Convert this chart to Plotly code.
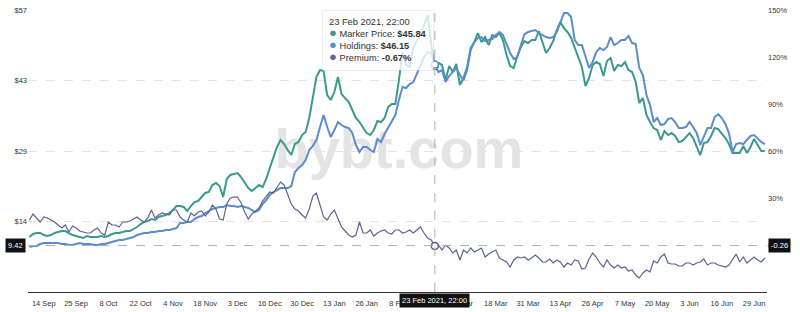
import pandas as pd
import plotly.graph_objects as go

# ---------------- data ----------------
tick_dates = ["2020-09-14", "2020-09-25", "2020-10-08", "2020-10-22", "2020-11-04", "2020-11-18",
              "2020-12-03", "2020-12-16", "2020-12-30", "2021-01-13", "2021-01-26", "2021-02-08",
              "2021-02-22", "2021-03-05", "2021-03-18", "2021-03-31", "2021-04-13", "2021-04-26",
              "2021-05-07", "2021-05-20", "2021-06-03", "2021-06-16", "2021-06-29"]

market_price = [
    11.15, 11.76, 11.97, 11.97, 11.56, 11.36, 11.56, 11.97, 12.17, 12.37,
    12.37, 11.97, 11.56, 11.36, 11.15, 10.95, 11.36, 11.15, 11.15, 11.15,
    11.36, 11.15, 11.36, 11.76, 11.97, 11.97, 12.17, 12.37, 12.37, 12.78,
    13.18, 13.79, 14.20, 14.40, 14.80, 14.60, 15.21, 15.41, 15.62, 16.02,
    16.63, 17.44, 17.44, 17.24, 16.43, 17.44, 18.25, 18.45, 19.27, 20.08,
    20.28, 21.70, 22.11, 21.50, 19.27, 22.92, 23.73, 23.93, 24.13, 23.32,
    22.31, 21.09, 20.48, 21.09, 21.70, 21.29, 22.92, 25.15, 27.38, 29.41,
    30.83, 30.01, 28.80, 27.78, 30.01, 30.42, 31.84, 32.45, 35.29, 39.55,
    43.60, 45.02, 44.82, 39.95, 38.94, 40.56, 43.60, 40.15, 39.34, 38.53,
    36.91, 35.29, 34.48, 33.46, 32.25, 31.84, 32.85, 34.68, 34.48, 35.29,
    37.52, 38.13, 38.13, 42.99, 48.67, 46.04, 45.64, 49.48, 51.11, 52.12,
    54.15, 56.18, 50.09, 45.84, 46.44, 46.04, 42.99, 45.83, 44.62, 46.24,
    41.98, 43.40, 45.64, 49.48, 50.70, 52.53, 50.70, 51.71, 50.09, 52.12,
    51.71, 52.53, 51.11, 48.06, 45.83, 45.43, 47.86, 49.69, 50.90, 50.50,
    51.11, 51.11, 52.93, 50.70, 48.47, 49.48, 50.90, 53.13, 54.76, 53.54,
    52.73, 51.51, 49.48, 47.45, 45.64, 41.78, 43.40, 46.04, 46.65, 46.24,
    43.80, 46.85, 47.45, 44.82, 46.04, 45.83, 46.65, 45.02, 44.62, 42.59,
    38.33, 39.34, 35.90, 34.48, 33.26, 32.85, 30.83, 32.65, 31.84, 32.25,
    31.64, 30.42, 30.62, 31.43, 32.25, 31.23, 29.41, 27.78, 30.22, 30.42,
    31.64, 33.26, 33.06, 32.25, 31.23, 30.01, 28.19, 28.19, 28.19, 29.61,
    28.19, 29.41, 31.03, 29.81, 28.59, 28.59]

holdings = [
    9.13, 9.33, 9.33, 9.73, 9.94, 9.94, 9.94, 9.94, 9.94, 9.73,
    9.73, 9.53, 9.53, 9.73, 9.94, 9.73, 9.73, 9.73, 9.53, 9.53,
    9.73, 9.73, 9.94, 10.14, 10.34, 10.55, 10.55, 10.75, 10.95, 11.15,
    11.56, 11.76, 11.97, 11.97, 12.17, 12.17, 12.37, 12.37, 12.57, 12.57,
    12.78, 12.98, 13.99, 13.99, 14.20, 14.20, 14.80, 15.21, 15.41, 16.02,
    16.43, 16.83, 17.04, 17.24, 17.24, 17.64, 17.44, 17.44, 17.24, 17.44,
    17.24, 17.04, 16.63, 16.22, 16.63, 17.85, 18.66, 19.67, 20.28, 20.69,
    21.09, 21.09, 21.09, 21.50, 24.34, 25.15, 25.76, 26.77, 28.80, 29.61,
    30.83, 33.46, 35.90, 33.46, 31.43, 32.85, 34.48, 33.87, 33.46, 33.26,
    32.25, 29.81, 28.39, 29.41, 29.41, 28.80, 28.39, 31.03, 30.42, 32.04,
    33.26, 34.48, 35.90, 38.94, 41.57, 41.37, 42.18, 42.59, 44.21, 46.04,
    47.66, 48.67, 48.47, 46.15, 44.62, 45.02, 42.59, 43.80, 44.62, 45.43,
    44.01, 42.99, 45.02, 49.08, 50.70, 51.51, 51.71, 50.90, 51.11, 51.31,
    52.12, 52.73, 52.12, 50.09, 48.47, 47.25, 47.66, 50.09, 52.32, 52.73,
    52.93, 53.13, 52.53, 52.12, 51.71, 51.51, 51.71, 52.73, 54.76, 56.58,
    56.58, 55.77, 51.11, 50.09, 50.09, 47.86, 45.43, 46.65, 48.67, 49.48,
    49.08, 49.69, 51.71, 50.09, 50.50, 51.11, 51.11, 51.92, 50.50, 50.30,
    45.43, 44.01, 39.95, 37.92, 34.48, 35.29, 33.87, 34.07, 35.08, 35.29,
    34.48, 33.26, 33.26, 33.46, 34.48, 33.46, 32.25, 29.81, 31.43, 33.26,
    33.26, 35.49, 36.10, 35.29, 34.07, 32.25, 28.39, 30.01, 30.22, 30.01,
    30.83, 31.64, 31.84, 31.03, 30.42, 30.01]

premium = [
    15.95, 19.78, 17.23, 14.67, 17.86, 17.23, 15.95, 14.67, 12.76, 10.85,
    12.76, 8.29, 12.12, 10.85, 8.93, 8.29, 7.66, 7.66, 9.57, 10.85,
    7.66, 6.38, 14.67, 12.76, 12.76, 11.48, 14.67, 14.67, 15.31, 16.59,
    17.86, 15.95, 14.67, 17.23, 22.33, 17.23, 19.14, 20.42, 19.78, 19.14,
    22.33, 22.33, 17.86, 15.95, 14.67, 20.42, 18.50, 21.05, 21.69, 18.50,
    21.05, 25.52, 22.97, 16.59, 15.95, 26.16, 29.99, 30.62, 30.62, 26.80,
    21.05, 16.59, 19.78, 21.69, 23.61, 28.07, 30.62, 33.81, 33.18, 37.00,
    40.19, 38.28, 31.90, 26.16, 22.97, 21.69, 19.14, 17.23, 22.97, 31.26,
    33.18, 25.52, 17.86, 15.95, 19.78, 22.33, 16.59, 11.48, 8.93, 6.38,
    5.10, 6.38, 14.67, 7.66, 7.66, 9.57, 5.74, 7.66, 8.93, 9.57,
    7.66, 7.02, 9.57, 9.57, 7.66, 8.29, 9.57, 7.66, 9.57, 11.48,
    7.66, 4.47, 3.19, -0.67, 0.00, -3.19, 0.00, -1.91, -5.10, -3.19,
    -9.57, -3.19, -5.10, -1.91, -4.47, -3.19, -1.91, -7.66, -5.74, -4.47,
    -3.19, -8.29, -9.57, -10.85, -14.04, -9.57, -7.66, -8.29, -7.66, -9.57,
    -8.29, -6.38, -8.29, -10.85, -10.85, -8.93, -11.48, -9.57, -10.85, -14.04,
    -11.48, -12.76, -9.57, -10.21, -15.31, -14.67, -8.93, -5.10, -7.66, -11.48,
    -14.04, -9.57, -12.76, -14.67, -12.76, -14.67, -14.04, -16.59, -15.95, -19.14,
    -21.05, -17.86, -15.95, -17.23, -10.21, -11.48, -7.66, -5.74, -11.48, -12.12,
    -12.12, -13.40, -13.40, -11.48, -11.48, -12.76, -11.48, -10.85, -8.93, -12.76,
    -11.48, -11.48, -12.76, -13.40, -14.04, -12.76, -8.93, -5.74, -10.85, -7.66,
    -11.48, -9.57, -7.66, -9.57, -10.85, -8.29]

left_ticks = [14.3, 28.6, 42.9, 57.2]
left_tick_text = ["$14", "$29", "$43", "$57"]
right_ticks = [0, 30, 60, 90, 120, 150]

hover_date = "2021-02-23"
hover_title = "23 Feb 2021, 22:00"
hover_price_text = "$45.84"
hover_holdings_text = "$46.15"
hover_premium_text = "-0.67%"
cursor_value = 9.42
cursor_left_text = "9.42"
cursor_right_text = "-0.26"
watermark_text = "bybt.com"

# ---------------- categories (trading days between the axis ticks) ----------------
anchors = pd.to_datetime(tick_dates)
days = list(pd.bdate_range(end=anchors[0], periods=5))
for a, b in zip(anchors[:-1], anchors[1:]):
    between = pd.bdate_range(a + pd.Timedelta(days=1), b - pd.Timedelta(days=1))
    days += list(between[:8]) + [b]
days += list(pd.bdate_range(anchors[-1] + pd.Timedelta(days=1), periods=3))
categories = [d.strftime("%Y-%m-%d") for d in days]
n = len(categories)
assert n == len(market_price) == len(holdings) == len(premium)
tick_text = [f"{d.day} {d.strftime('%b')}" for d in anchors]

C_PRICE = "#3a9a8e"
C_HOLD = "#5b8dcc"
C_PREM = "#5d628f"
FONT = "Liberation Sans, Arial, Helvetica, sans-serif"

x_range = [-0.4, n - 1 + 0.6]
y_range = [0, 57.2]
y2_range = [-30, 150]

fig = go.Figure()

# watermark (drawn first so the lines sit on top of it)
mid_idx = int(round(sum(x_range) / 2))
fig.add_trace(go.Scatter(
    x=[categories[mid_idx]], y=[sum(y_range) / 2 - 0.6], mode="text", text=[watermark_text],
    textfont=dict(family="Liberation Sans Narrow, Liberation Sans, Arial", size=56,
                  color="#e4e4e4", weight="bold"),
    hoverinfo="skip", showlegend=False))

fig.add_trace(go.Scatter(x=categories, y=market_price, mode="lines", name="Marker Price",
                         line=dict(color=C_PRICE, width=2)))
fig.add_trace(go.Scatter(x=categories, y=holdings, mode="lines", name="Holdings",
                         line=dict(color=C_HOLD, width=2)))
fig.add_trace(go.Scatter(x=categories, y=premium, mode="lines", name="Premium", yaxis="y2",
                         line=dict(color=C_PREM, width=1.2)))

hi = categories.index(hover_date)
fig.add_trace(go.Scatter(x=[hover_date, hover_date], y=[market_price[hi], holdings[hi]],
                         mode="markers", showlegend=False,
                         marker=dict(size=7, color="white",
                                     line=dict(color=[C_PRICE, C_HOLD], width=1.5))))
fig.add_trace(go.Scatter(x=[hover_date], y=[premium[hi]], yaxis="y2", mode="markers",
                         showlegend=False,
                         marker=dict(size=7, color="white", line=dict(color=C_PREM, width=1.5))))

# crosshair
fig.add_shape(type="line", xref="x", yref="paper", x0=hover_date, x1=hover_date, y0=0, y1=1,
              line=dict(color="#b0b0b0", width=1, dash="dash"))
fig.add_shape(type="line", xref="paper", yref="y", x0=0, x1=1, y0=cursor_value, y1=cursor_value,
              line=dict(color="#b0b0b0", width=1, dash="dash"))

dot = lambda c: f"<span style='color:{c};font-size:13px'>●</span>"
tip = (f"{hover_title}<br>"
       f"{dot(C_PRICE)} Marker Price: <b>{hover_price_text}</b><br>"
       f"{dot(C_HOLD)} Holdings: <b>{hover_holdings_text}</b><br>"
       f"{dot(C_PREM)} Premium: <b>{hover_premium_text}</b>")
fig.add_annotation(xref="x", yref="paper", x=hover_date, y=1, xanchor="right", yanchor="top",
                   xshift=-1, text=tip, align="left", showarrow=False,
                   font=dict(family=FONT, size=9.3, color="#333"),
                   bgcolor="rgba(255,255,255,0.78)", bordercolor="rgba(0,0,0,0.07)",
                   borderwidth=1, borderpad=6)

label_style = dict(showarrow=False, bgcolor="#111111", borderpad=2,
                   font=dict(family=FONT, size=7.5, color="white"))
fig.add_annotation(xref="paper", yref="y", x=-0.003, y=cursor_value, xanchor="right",
                   yanchor="middle", text=cursor_left_text, **label_style)
fig.add_annotation(xref="paper", yref="y", x=1.002, y=cursor_value, xanchor="left",
                   yanchor="middle", text=cursor_right_text, **label_style)
fig.add_annotation(xref="x", yref="paper", x=hover_date, y=0, xanchor="center",
                   yanchor="top", yshift=-1, text=hover_title, **label_style)

fig.update_layout(
    width=800, height=312,
    margin=dict(l=28, r=33, t=10, b=20, autoexpand=False),
    paper_bgcolor="white", plot_bgcolor="white", showlegend=False,
    font=dict(family=FONT, size=7.5, color="#333"),
    xaxis=dict(type="category", categoryorder="array", categoryarray=categories,
               range=x_range, tickvals=tick_dates, ticktext=tick_text,
               showgrid=False, showline=True, linecolor="#333", linewidth=1, ticks="",
               ticklabelstandoff=4,
               zeroline=False, tickfont=dict(size=7.5, color="#333")),
    yaxis=dict(range=y_range, tickvals=left_ticks, ticktext=left_tick_text, showgrid=True,
               gridcolor="#e3e3e3", griddash="dash", gridwidth=1, zeroline=False, ticks="",
               showline=False, tickfont=dict(size=7.5, color="#333")),
    yaxis2=dict(overlaying="y", side="right", range=y2_range, tickvals=right_ticks,
                ticktext=[f"{v}%" for v in right_ticks], showgrid=False, zeroline=False,
                ticks="", showline=False, tickfont=dict(size=7.5, color="#333")),
    hovermode=False,
)

fig.write_html("out.html")
